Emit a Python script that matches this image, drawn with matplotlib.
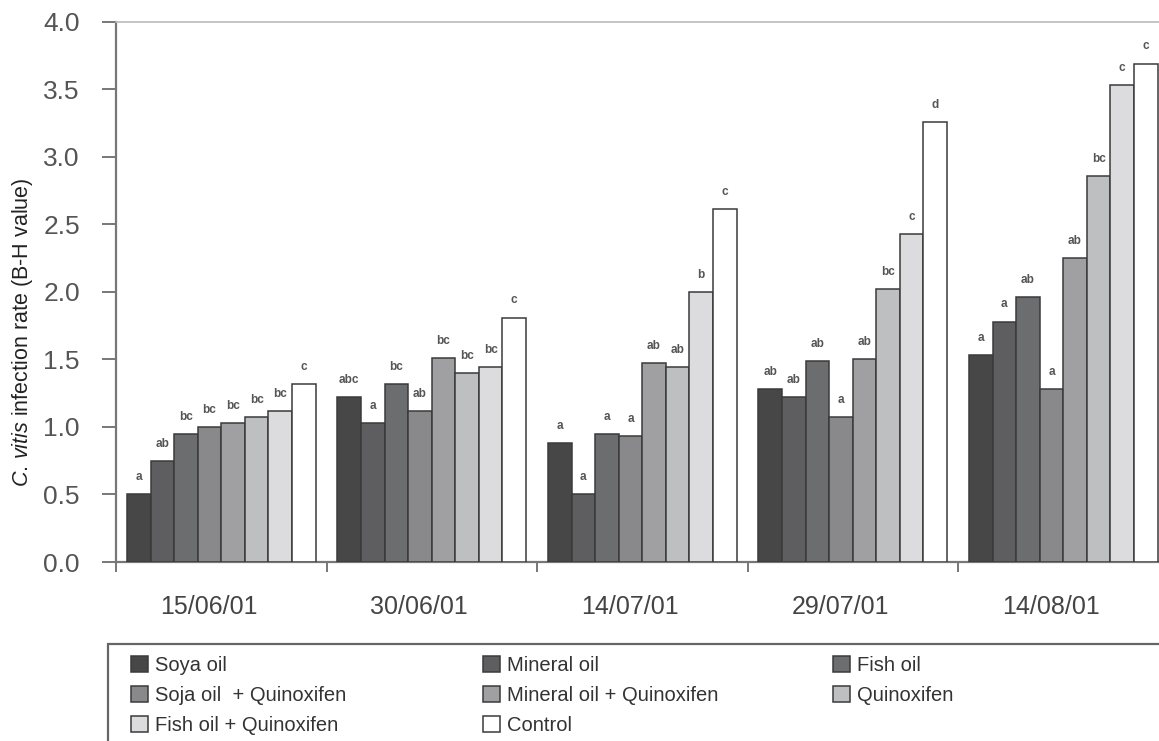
import numpy as np
import matplotlib
matplotlib.use("Agg")
import matplotlib.pyplot as plt
from matplotlib.patches import Rectangle

plt.rcParams["font.family"] = ["Liberation Sans", "DejaVu Sans"]
plt.rcParams["mathtext.fontset"] = "custom"
plt.rcParams["mathtext.rm"] = "Liberation Sans"
plt.rcParams["mathtext.it"] = "Liberation Sans:italic"

dates = ["15/06/01", "30/06/01", "14/07/01", "29/07/01", "14/08/01"]
treatments = [
    "Soya oil",
    "Mineral oil",
    "Fish oil",
    "Soja oil  + Quinoxifen",
    "Mineral oil + Quinoxifen",
    "Quinoxifen",
    "Fish oil + Quinoxifen",
    "Control",
]
colors = ["#474747", "#5e5e60", "#6c6d6f", "#89898b",
          "#a0a0a2", "#bebfc0", "#dcdcde", "#ffffff"]

# values per treatment, one entry per date
values = [
    [0.50, 1.22, 0.88, 1.28, 1.53],
    [0.75, 1.03, 0.50, 1.22, 1.78],
    [0.95, 1.32, 0.95, 1.49, 1.96],
    [1.00, 1.12, 0.93, 1.07, 1.28],
    [1.03, 1.51, 1.47, 1.50, 2.25],
    [1.07, 1.40, 1.44, 2.02, 2.86],
    [1.12, 1.44, 2.00, 2.43, 3.53],
    [1.32, 1.81, 2.61, 3.26, 3.69],
]
letters = [
    ["a", "abc", "a", "ab", "a"],
    ["ab", "a", "a", "ab", "a"],
    ["bc", "bc", "a", "ab", "ab"],
    ["bc", "ab", "a", "a", "a"],
    ["bc", "bc", "ab", "ab", "ab"],
    ["bc", "bc", "ab", "bc", "bc"],
    ["bc", "bc", "b", "c", "c"],
    ["c", "c", "c", "d", "c"],
]

W, H = 1159, 741
fig = plt.figure(figsize=(W / 100, H / 100), dpi=100)
ax = fig.add_axes([116 / W, (H - 562) / H, (W - 116) / W, (562 - 21.7) / H])

bw = 0.112
groups = np.arange(len(dates))
bars = []
for i, (name, col) in enumerate(zip(treatments, colors)):
    x = groups + 0.5 + (i - 3.5) * bw
    b = ax.bar(x, values[i], width=bw, color=col, edgecolor="#3a3a3a",
               linewidth=1.1, label=name, zorder=3)
    bars.append(b)
    for xx, v, t in zip(x, values[i], letters[i]):
        ax.annotate(t, (xx, v), xytext=(0, 8), textcoords="offset points",
                    ha="center", va="bottom", fontsize=8.5,
                    weight="bold", color="#555555")

ax.set_xlim(0, (W - 116) / 210.5)
ax.set_ylim(0, 4.0)
ax.set_yticks(np.arange(0, 4.01, 0.5))
ax.set_yticklabels([f"{v:.1f}" for v in np.arange(0, 4.01, 0.5)],
                   fontsize=19, color="#555555")
ax.tick_params(axis="y", length=10, width=1.4, color="#777777", pad=16)

ax.set_xticks(groups)
ax.set_xticklabels([])
ax.tick_params(axis="x", which="major", length=7, width=1.4, color="#777777")
ax.set_xticks(groups + 0.44, minor=True)
ax.set_xticklabels(dates, minor=True, fontsize=18, color="#444444")
ax.tick_params(axis="x", which="minor", length=0, pad=24)

for s in ["left", "bottom"]:
    ax.spines[s].set_color("#777777")
    ax.spines[s].set_linewidth(1.6)
ax.spines["top"].set_color("#bbbbbb")
ax.spines["top"].set_linewidth(1.2)
ax.spines["right"].set_visible(False)

ax.set_ylabel(r"$\it{C.}$$\,$$\it{vitis}$ infection rate (B-H value)",
              fontsize=15.5, color="#222222")
ax.yaxis.set_label_coords(-0.078, 0.426)

# legend box running off the page
fig.add_artist(Rectangle((108 / W, -0.1), 1.2, (H - 644) / H + 0.1,
                         transform=fig.transFigure, facecolor="none",
                         edgecolor="#666666", linewidth=1.6))

cols = [[0, 3, 6], [1, 4, 7], [2, 5]]
col_x = [131, 483, 833]
for idx, cx in zip(cols, col_x):
    fig.legend([bars[k] for k in idx], [treatments[k] for k in idx],
               loc="upper left", bbox_to_anchor=(cx / W, (H - 656) / H),
               frameon=False, borderpad=0, borderaxespad=0,
               handlelength=0.85, handleheight=0.8, handletextpad=0.35,
               labelspacing=0.55, fontsize=14.5, labelcolor="#333333")

fig.savefig("out.png", dpi=100)
